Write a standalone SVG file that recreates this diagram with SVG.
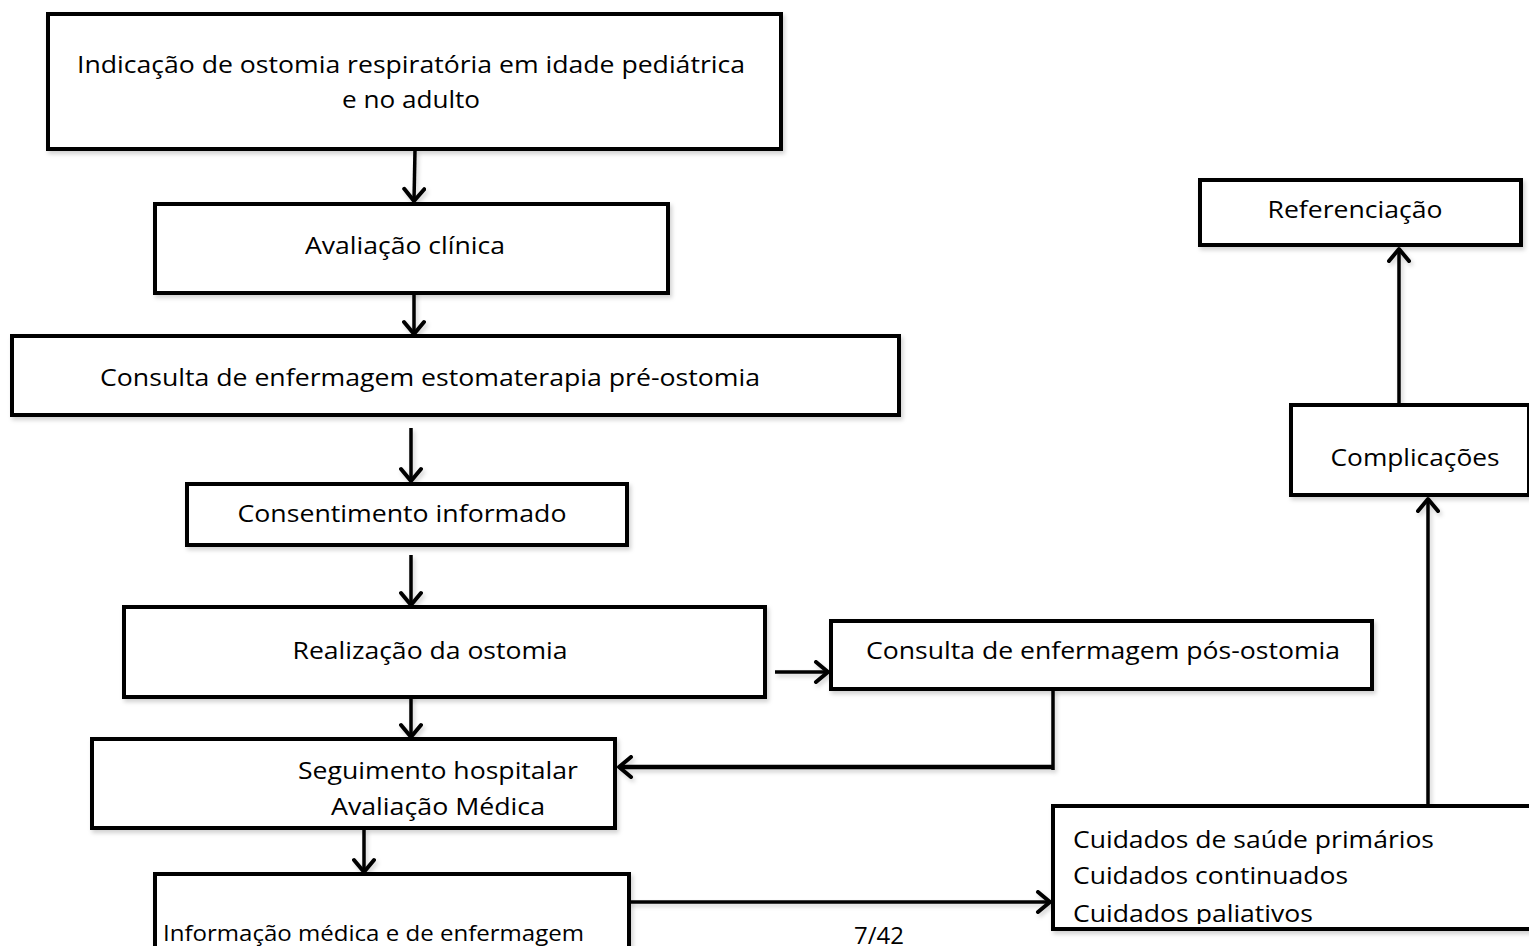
<svg xmlns="http://www.w3.org/2000/svg" width="1529" height="946" viewBox="0 0 1529 946">
<style>
.box{fill:#fff;stroke:#000;stroke-width:4;filter:url(#sh)}
.t{font-family:"Open Sans","Noto Sans",sans-serif;font-size:24px;fill:#000}
.c{stroke:#000;stroke-width:3.5;fill:none}
.w{stroke-width:4.5}
</style>
<defs>
<filter id="sh" x="-5%" y="-10%" width="110%" height="130%">
<feDropShadow dx="2" dy="3" stdDeviation="2" flood-color="#000" flood-opacity="0.18"/>
</filter>
<marker id="ah" viewBox="0 0 24 24" refX="21" refY="12" markerWidth="24" markerHeight="24" markerUnits="userSpaceOnUse" orient="auto">
<path d="M9,2 L21,12 L9,22" fill="none" stroke="#000" stroke-width="4" stroke-linecap="round" stroke-linejoin="round"/>
</marker>
<clipPath id="cl"><rect x="1053" y="806" width="476" height="118"/></clipPath>
</defs>
<g id="connectors" filter="url(#sh)">
<line class="c" x1="415" y1="150" x2="414" y2="201" marker-end="url(#ah)"/>
<line class="c" x1="414" y1="282" x2="414" y2="334" marker-end="url(#ah)"/>
<line class="c" x1="411" y1="428" x2="411" y2="481" marker-end="url(#ah)"/>
<line class="c" x1="411" y1="555" x2="411" y2="605" marker-end="url(#ah)"/>
<line class="c" x1="411" y1="692" x2="411" y2="737" marker-end="url(#ah)"/>
<line class="c" x1="364" y1="829" x2="364" y2="872" marker-end="url(#ah)"/>
<line class="c" x1="775" y1="672" x2="828" y2="672" marker-end="url(#ah)"/>
<polyline class="c" points="1053,689 1053,770"/>
<line class="c w" x1="1053" y1="767" x2="619" y2="767" marker-end="url(#ah)"/>
<line class="c" x1="629" y1="902" x2="1050" y2="902" marker-end="url(#ah)"/>
<line class="c" x1="1428" y1="806" x2="1428" y2="499" marker-end="url(#ah)"/>
<line class="c" x1="1399" y1="405" x2="1399" y2="249" marker-end="url(#ah)"/>
</g>
<g id="n1"><rect class="box" x="48" y="14" width="733" height="135"/>
<text class="t" x="411" y="73" text-anchor="middle" textLength="668" lengthAdjust="spacingAndGlyphs">Indicação de ostomia respiratória em idade pediátrica</text>
<text class="t" x="411" y="108" text-anchor="middle" textLength="138" lengthAdjust="spacingAndGlyphs">e no adulto</text></g>
<g id="n2"><rect class="box" x="155" y="204" width="513" height="89"/>
<text class="t" x="405" y="254" text-anchor="middle" textLength="200" lengthAdjust="spacingAndGlyphs">Avaliação clínica</text></g>
<g id="n3"><rect class="box" x="12" y="336" width="887" height="79"/>
<text class="t" x="430" y="386" text-anchor="middle" textLength="660" lengthAdjust="spacingAndGlyphs">Consulta de enfermagem estomaterapia pré-ostomia</text></g>
<g id="n4"><rect class="box" x="187" y="484" width="440" height="61"/>
<text class="t" x="402" y="522" text-anchor="middle" textLength="329" lengthAdjust="spacingAndGlyphs">Consentimento informado</text></g>
<g id="n5"><rect class="box" x="124" y="607" width="641" height="90"/>
<text class="t" x="430" y="659" text-anchor="middle" textLength="275" lengthAdjust="spacingAndGlyphs">Realização da ostomia</text></g>
<g id="n6"><rect class="box" x="92" y="739" width="523" height="89"/>
<text class="t" x="438" y="779" text-anchor="middle" textLength="280" lengthAdjust="spacingAndGlyphs">Seguimento hospitalar</text>
<text class="t" x="438" y="815" text-anchor="middle" textLength="214" lengthAdjust="spacingAndGlyphs">Avaliação Médica</text></g>
<g id="n7"><rect class="box" x="155" y="874" width="474" height="80"/>
<text class="t" x="163" y="941" style="font-size:22px" textLength="421" lengthAdjust="spacingAndGlyphs">Informação médica e de enfermagem</text></g>
<g id="n8"><rect class="box" x="831" y="621" width="541" height="68"/>
<text class="t" x="1103" y="659" text-anchor="middle" textLength="474" lengthAdjust="spacingAndGlyphs">Consulta de enfermagem pós-ostomia</text></g>
<g id="n9"><rect class="box" x="1053" y="806" width="478" height="123"/>
<g clip-path="url(#cl)">
<text class="t" x="1073" y="848" textLength="361" lengthAdjust="spacingAndGlyphs">Cuidados de saúde primários</text>
<text class="t" x="1073" y="884" textLength="275" lengthAdjust="spacingAndGlyphs">Cuidados continuados</text>
<text class="t" x="1073" y="922" textLength="240" lengthAdjust="spacingAndGlyphs">Cuidados paliativos</text>
</g></g>
<g id="n10"><rect class="box" x="1291" y="405" width="238" height="90"/>
<text class="t" x="1415" y="466" text-anchor="middle" textLength="169" lengthAdjust="spacingAndGlyphs">Complicações</text></g>
<g id="n11"><rect class="box" x="1200" y="180" width="321" height="65"/>
<text class="t" x="1355" y="218" text-anchor="middle" textLength="175" lengthAdjust="spacingAndGlyphs">Referenciação</text></g>
<text class="t" x="879" y="944" text-anchor="middle" fill="#333">7/42</text>
</svg>
